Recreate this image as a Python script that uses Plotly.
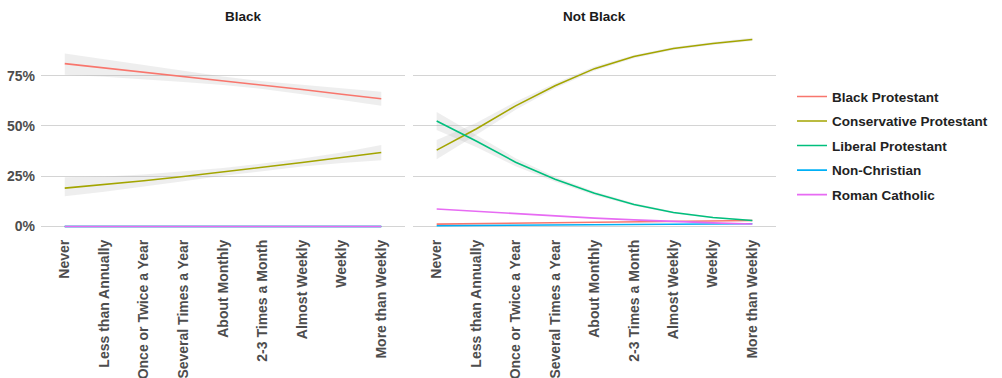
import plotly.graph_objects as go

categories = ["Never", "Less than Annually", "Once or Twice a Year", "Several Times a Year",
              "About Monthly", "2-3 Times a Month", "Almost Weekly", "Weekly", "More than Weekly"]
series_names = ["Black Protestant", "Conservative Protestant", "Liberal Protestant",
                "Non-Christian", "Roman Catholic"]
panels = ["Black", "Not Black"]
y_ticks = [0, 25, 50, 75]
y_tick_labels = ["0%", "25%", "50%", "75%"]

# Black panel (percent)
black_bp = [81.0, 78.9, 76.8, 74.7, 72.5, 70.3, 68.1, 65.8, 63.5]
black_bp_lo = [75.5, 74.5, 73.3, 71.9, 70.4, 68.4, 65.8, 63.0, 60.0]
black_bp_hi = [86.0, 83.2, 80.3, 77.5, 74.6, 72.2, 70.4, 68.6, 67.0]
black_cp = [19.1, 20.9, 22.8, 24.9, 27.1, 29.4, 31.8, 34.3, 36.8]
black_cp_lo = [15.0, 17.3, 19.8, 22.5, 25.2, 27.6, 29.9, 31.6, 32.9]
black_cp_hi = [24.5, 24.9, 25.9, 27.4, 29.1, 31.3, 33.8, 36.8, 40.5]
black_lp = [0, 0, 0, 0, 0, 0, 0, 0, 0]
black_nc = [0, 0, 0, 0, 0, 0, 0, 0, 0]
black_rc = [0, 0, 0, 0, 0, 0, 0, 0, 0]

# Not Black panel (percent)
nb_bp = [1.2, 1.4, 1.6, 1.8, 2.0, 2.3, 2.5, 2.7, 3.0]
nb_cp = [38.0, 48.5, 60.0, 70.0, 78.5, 84.5, 88.5, 91.0, 93.0]
nb_cp_lo = [33.5, 45.5, 58.0, 68.8, 77.5, 83.7, 87.8, 90.3, 92.2]
nb_cp_hi = [43.0, 51.5, 62.0, 71.2, 79.5, 85.3, 89.2, 91.7, 93.8]
nb_lp = [52.5, 42.5, 32.0, 23.5, 16.5, 11.0, 7.0, 4.5, 3.0]
nb_lp_lo = [48.0, 39.5, 30.0, 22.3, 15.6, 10.3, 6.5, 4.1, 2.6]
nb_lp_hi = [57.0, 45.5, 34.0, 24.7, 17.4, 11.7, 7.5, 4.9, 3.4]
nb_nc = [0.4, 0.5, 0.6, 0.7, 0.8, 0.9, 1.0, 1.2, 1.4]
nb_rc = [8.7, 7.5, 6.3, 5.2, 4.2, 3.3, 2.5, 1.8, 1.3]

colors = ["#F8766D", "#A3A500", "#00BF7D", "#00B0F6", "#E76BF3"]

panel_lines = {
    "Black": [black_bp, black_cp, black_lp, black_nc, black_rc],
    "Not Black": [nb_bp, nb_cp, nb_lp, nb_nc, nb_rc],
}
panel_bands = {
    "Black": [(black_bp_lo, black_bp_hi), (black_cp_lo, black_cp_hi)],
    "Not Black": [(nb_cp_lo, nb_cp_hi), (nb_lp_lo, nb_lp_hi)],
}

W, H = 1002, 378
top_px, bot_px = 29.6, 236.5
dom_left = [41 / W, 405 / W]
dom_right = [413 / W, 776 / W]

fig = go.Figure()
axes = {"Black": ("x", "y"), "Not Black": ("x2", "y2")}

for p in panels:
    xa, ya = axes[p]
    for lo, hi in panel_bands[p]:
        fig.add_trace(go.Scatter(
            x=categories + categories[::-1], y=hi + lo[::-1],
            fill="toself", fillcolor="rgba(170,170,170,0.2)",
            line=dict(width=0), mode="lines", hoverinfo="skip",
            showlegend=False, xaxis=xa, yaxis=ya))

for p in panels:
    xa, ya = axes[p]
    for i, (name, vals) in enumerate(zip(series_names, panel_lines[p])):
        fig.add_trace(go.Scatter(
            x=categories, y=vals, mode="lines", name=name,
            line=dict(color=colors[i], width=1.6),
            legendgroup=name, showlegend=(p == "Black"),
            xaxis=xa, yaxis=ya))

FONT = "Liberation Sans, Arial, sans-serif"
tickfont = dict(family=FONT, size=14, color="#4d4d4d", weight="bold")

xcommon = dict(type="category", categoryorder="array", categoryarray=categories,
               range=[-0.6, 8.6], showgrid=False, zeroline=False, showline=False,
               tickangle=-90, tickfont=tickfont, ticks="", fixedrange=True)
ycommon = dict(range=[-4.7, 97.7], tickvals=y_ticks, ticktext=y_tick_labels,
               showgrid=True, gridcolor="#d4d4d4", gridwidth=1.4, zeroline=False,
               showline=False, ticks="")

fig.update_layout(
    width=W, height=H,
    margin=dict(l=0, r=0, t=top_px, b=H - bot_px, autoexpand=False),
    paper_bgcolor="white", plot_bgcolor="white",
    xaxis=dict(domain=dom_left, anchor="y", **xcommon),
    xaxis2=dict(domain=dom_right, anchor="y2", **xcommon),
    yaxis=dict(domain=[0, 1], anchor="x", tickfont=tickfont, ticklabelstandoff=5, **ycommon),
    yaxis2=dict(domain=[0, 1], anchor="x2", showticklabels=False, **ycommon),
    legend=dict(x=792 / W, xanchor="left", y=(bot_px - 81) / (bot_px - top_px), yanchor="top",
                font=dict(family=FONT, size=13.5, color="#222222", weight="bold"),
                traceorder="grouped", tracegroupgap=4, bgcolor="rgba(0,0,0,0)"),
    showlegend=True,
)

ypaper_title = (bot_px - 16) / (bot_px - top_px)
for title, dom in zip(panels, [dom_left, dom_right]):
    fig.add_annotation(text=title, x=sum(dom) / 2, xref="paper", y=ypaper_title, yref="paper",
                       yanchor="middle", showarrow=False,
                       font=dict(family=FONT, size=13.5, color="#1a1a1a", weight="bold"))

fig.write_html("out.html")
